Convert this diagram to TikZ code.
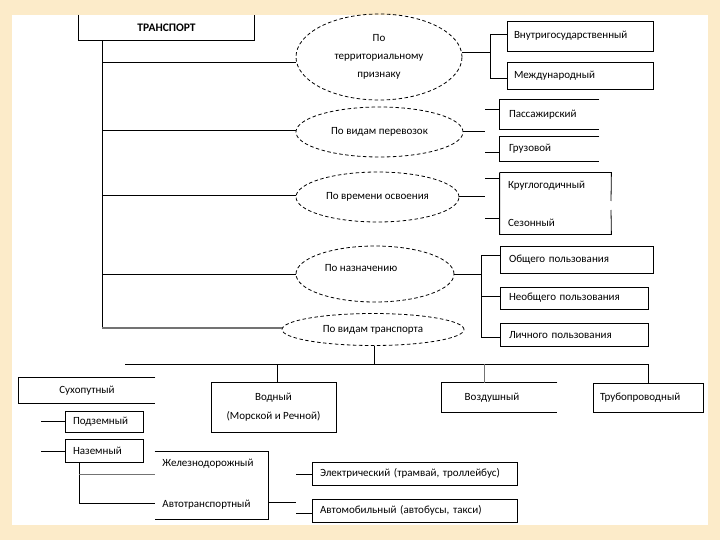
\documentclass[tikz,border=0pt]{standalone}
\usepackage{fontspec}
\setmainfont{Carlito}
\usetikzlibrary{shapes.geometric}
\definecolor{framebg}{RGB}{252,235,201}
\begin{document}
\begin{tikzpicture}[x=1pt,y=-1pt,line width=0.8pt,
  txt/.style={font=\fontsize{11}{13}\selectfont},
  bx/.style={txt,draw,inner sep=0pt,align=left},
  obx/.style={txt,inner sep=0pt,align=left},
  ell/.style={ellipse,draw,dashed,dash pattern=on 3.5pt off 2.5pt,inner sep=0pt,txt,align=center},
  grayline/.style={draw=black!55,line width=1.3pt}]
\useasboundingbox (0,0) rectangle (720,540);
\fill[framebg] (0,0) rectangle (720,540);
\fill[white] (12,15) rectangle (708,525);

% root
\node[font=\fontsize{11.5}{13}\selectfont\bfseries,minimum width=175pt,minimum height=25pt,inner sep=0pt] (trans) at (166.5,27.5) {ТРАНСПОРТ};
\draw (trans.north west) -- (trans.south west) -- (trans.south east) -- (trans.north east);

% ellipses
\node[ell,minimum width=166pt,minimum height=86pt,font=\fontsize{11}{18}\selectfont] (e1) at (379,57) {По\\территориальному\\признаку};
\node[ell,minimum width=167pt,minimum height=50pt] (e2) at (379.5,132) {По видам перевозок};
\node[ell,minimum width=163pt,minimum height=50pt] (e3) at (377.5,197) {По времени освоения};
\node[ell,minimum width=158pt,minimum height=56pt] (e4) at (375,274) {};
\node[txt] (e4t) at (361,268) {По назначению};
\node[ell,minimum width=182pt,minimum height=32pt] (e5) at (373,329.5) {По видам транспорта};

% trunk
\coordinate (t1) at (102,62);
\coordinate (t2) at (102,130);
\coordinate (t3) at (102,195);
\coordinate (t4) at (102,274);
\coordinate (t5) at (102,328);
\draw (trans.south -| t1) -- (t5);
\draw (t1) -- (t1 -| e1.west);
\draw (t2) -- (t2 -| e2.west);
\draw (t3) -- (t3 -| e3.west);
\draw (t4) -- (t4 -| e4.west);
\draw[grayline] (t5) -- (t5 -| e5.west);

% territorial
\node[bx,minimum width=146pt,minimum height=30pt,text width=132pt] (vnutr) at (580,36) {Внутригосударственный};
\node[bx,minimum width=146pt,minimum height=27pt,text width=132pt] (mezh) at (580,75.5) {Международный};
\coordinate (j1) at (490,52);
\coordinate (j1a) at (490,34);
\coordinate (j1b) at (490,78);
\draw (e1.east |- j1) -- (j1);
\draw (j1a) -- (j1b);
\draw (j1a) -- (j1a -| vnutr.west);
\draw (j1b) -- (j1b -| mezh.west);

% cargo
\node[obx,minimum width=99pt,minimum height=29pt,text width=81pt] (pass) at (549.5,114.5) {Пассажирский};
\node[obx,minimum width=99pt,minimum height=24pt,text width=81pt] (gruz) at (549.5,149) {Грузовой};
\draw (pass.north east) -- (pass.north west) -- (pass.south west) -- (pass.south east);
\draw (gruz.north east) -- (gruz.north west) -- (gruz.south west) -- (gruz.south east);
\coordinate (j2) at (485,131);
\coordinate (j2a) at (485,109);
\coordinate (j2b) at (485,152);
\draw (e2.east |- j2) -- (j2);
\draw (j2a) -- (j2a -| pass.west);
\draw (j2b) -- (j2b -| gruz.west);

% season
\node[obx,minimum width=111pt,minimum height=26pt,text width=95pt] (krug) at (555.5,186) {Круглогодичный};
\node[obx,minimum width=111pt,minimum height=22pt,text width=95pt] (sez) at (555.5,223) {Сезонный};
\draw (krug.north west) -- (sez.south west) -- (sez.south east) -- (611,210);
\draw (611,201) -- (krug.north east) -- (krug.north west);
\coordinate (j3) at (485,196);
\coordinate (j3a) at (485,178);
\coordinate (j3b) at (485,218);
\draw (e3.east |- j3) -- (j3);
\draw (j3a) -- (j3a -| krug.west);
\draw (j3b) -- (j3b -| sez.west);

% purpose
\node[bx,minimum width=153pt,minimum height=27pt,text width=135pt] (obsh) at (576.5,260) {Общего пользования};
\node[bx,minimum width=148pt,minimum height=22pt,text width=130pt] (neob) at (574,298) {Необщего пользования};
\node[bx,minimum width=148pt,minimum height=23pt,text width=130pt] (lich) at (574,335) {Личного пользования};
\coordinate (j4) at (481,274);
\coordinate (j4a) at (481,255);
\coordinate (j4b) at (481,296);
\coordinate (j4c) at (481,337);
\draw (e4.east) -- (j4);
\draw (j4a) -- (j4c);
\draw (j4a) -- (j4a -| obsh.west);
\draw (j4b) -- (j4b -| neob.west);
\draw (j4c) -- (j4c -| lich.west);

% kinds of transport
\node[txt,minimum width=136pt,minimum height=25pt,inner sep=0pt] (suh) at (87,390.5) {Сухопутный};
\draw (suh.north east) -- (suh.north west) -- (suh.south west) -- (suh.south east);
\node[bx,align=center,minimum width=125pt,minimum height=50pt,font=\fontsize{11}{19}\selectfont] (vodn) at (273.5,407) {Водный\\(Морской и Речной)};
\node[txt,minimum width=115pt,minimum height=29pt,inner sep=0pt] (vozd) at (499.5,397.5) {\hspace*{-15pt}Воздушный};
\draw (vozd.north east) -- (vozd.north west) -- (vozd.south west) -- (vozd.south east);
\node[bx,minimum width=110pt,minimum height=29pt,text width=96pt] (trub) at (648,397.5) {Трубопроводный};

\coordinate (h0) at (374,364);
\coordinate (hl) at (125,364);
\coordinate (hr) at (648,364);
\coordinate (hv) at (277,364);
\coordinate (ha) at (484,364);
\draw (e5.south -| h0) -- (h0);
\draw (hl) -- (hr);
\draw (hr) -- (trub.north);
\draw (hv) -- (hv |- vodn.north);
\draw[draw=black!55] (ha) -- (ha |- vozd.north);

% land
\node[bx,minimum width=78pt,minimum height=21pt,text width=62pt] (podz) at (104,421.5) {Подземный};
\node[bx,minimum width=78pt,minimum height=23pt,text width=62pt] (nazem) at (104,450.5) {Наземный};
\coordinate (p0) at (41,421);
\coordinate (n0) at (41,451);
\draw (p0) -- (p0 -| podz.west);
\draw (n0) -- (n0 -| nazem.west);

\node[inner sep=0pt,minimum width=113pt,minimum height=67pt] (ja) at (211.5,485.5) {};
\draw (ja.north west) -- (ja.north east) -- (ja.south east) -- (ja.south west);
\node[txt,anchor=west,inner sep=0pt] (zhel) at (162,464) {Железнодорожный};
\node[txt,anchor=west,inner sep=0pt] (avto) at (162,505) {Автотранспортный};
\coordinate (n1) at (79,474);
\coordinate (n2) at (79,503);
\draw (nazem.south -| n1) -- (n2);
\draw[grayline,line width=1pt] (n1) -- (n1 -| ja.west);
\draw (n2) -- (n2 -| ja.west);

\node[bx,minimum width=205pt,minimum height=23pt,text width=189pt] (elek) at (414.5,473.5) {Электрический (трамвай, троллейбус)};
\node[bx,minimum width=205pt,minimum height=23pt,text width=189pt] (avtom) at (414.5,510.5) {Автомобильный (автобусы, такси)};
\coordinate (k0) at (296,502);
\coordinate (k1) at (296,474);
\coordinate (k2) at (296,513);
\draw (ja.east |- k0) -- (k0);
\draw (k1) -- (k1 -| elek.west);
\draw (k2) -- (k2 -| avtom.west);
\end{tikzpicture}
\end{document}
